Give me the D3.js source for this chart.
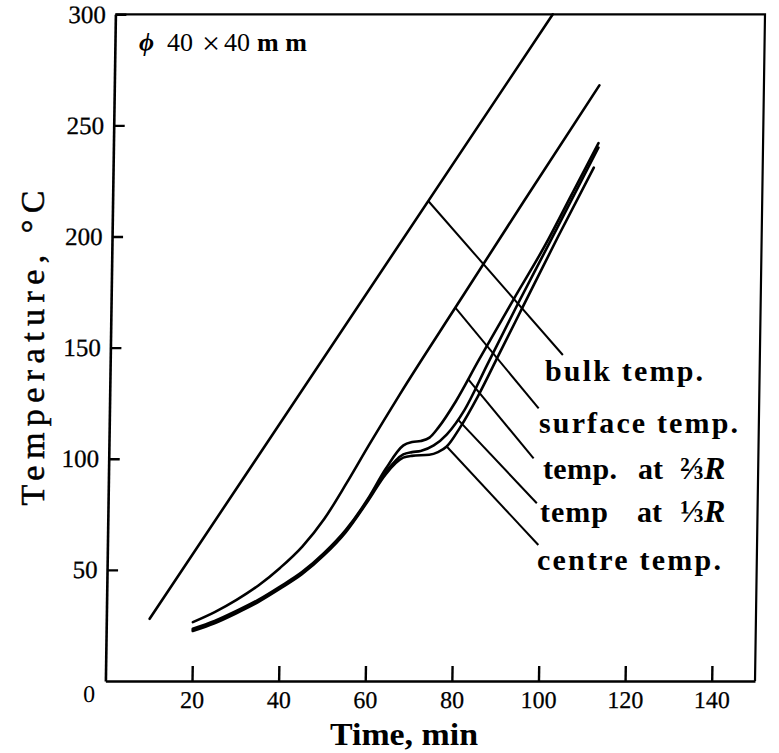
<!DOCTYPE html>
<html>
<head>
<meta charset="utf-8">
<title>Temperature vs time</title>
<script src="https://d3js.org/d3.v7.min.js"></script>
<style>
  body { margin: 0; background: #fff; }
  text { font-family: 'Liberation Serif', 'DejaVu Serif', serif; fill: #000; }
  .axis path, .axis line { stroke: #000; }
</style>
</head>
<body>
<svg id="chart" width="779" height="753"></svg>
<script>
// tick values
const xTicks = [20, 40, 60, 80, 100, 120, 140];
const yTicks = [50, 100, 150, 200, 250, 300];

// bulk temperature (straight heating line)
const bulkTime = [10, 101];
const bulkTemp = [28, 300];

// surface temperature
const surfTime = [20, 25, 30, 35, 40, 45, 50, 55, 60, 67, 80, 95, 112];
const surfTemp = [26.5, 31, 36.5, 43, 51, 60.5, 73, 89, 106, 129, 169.5, 216, 268];

// temp. at 2/3 R
const r23Time = [20, 25, 30, 35, 40, 45, 50, 55, 60, 64, 68, 70, 72, 74, 76, 80, 85, 93, 100, 106, 112];
const r23Temp = [23.5, 27, 31.5, 36.5, 42.5, 49, 57.5, 68, 82, 95.5, 106, 107.5, 108, 109.5, 114, 126, 144, 172, 196, 219, 242];

// temp at 1/3 R
const r13Time = [20, 25, 30, 35, 40, 45, 50, 55, 60, 64, 68, 70, 72, 75, 78, 82, 87, 94, 101, 112];
const r13Temp = [23, 26.5, 31, 36, 42, 48.5, 57, 67.5, 81.5, 94, 102, 103, 103.5, 106, 111, 122, 142, 170, 197, 240];

// centre temp
const centTime = [20, 25, 30, 35, 40, 45, 50, 55, 60, 64, 68, 70, 74, 76, 78, 81, 85, 90, 95, 103, 111];
const centTemp = [22.5, 26, 30.5, 35.5, 41.5, 48, 56.5, 67, 81, 93, 100.5, 101.3, 101.8, 103, 105.5, 114, 128, 148, 168, 200, 231];

// leader lines: [startTime, startTemp, endTime, endTemp]
const leaderBulk = [72.9, 216, 104.5, 146.7];
const leaderSurf = [79.5, 168, 99.1, 122.7];
const leaderR23 = [82.7, 135.8, 98.1, 100.2];
const leaderR13 = [80.5, 117.6, 99, 80];
const leaderCent = [78, 105.5, 99.5, 61.2];

const svg = d3.select("#chart");

const x = d3.scaleLinear().domain([0, 150]).range([105.4, 755]);
const y = d3.scaleLinear().domain([0, 300]).range([681, 14.3]);

// the scanned figure leans slightly to the right at the top
const k = 0.015;
const plot = svg.append("g")
  .attr("transform", `translate(${k * 681},0) skewX(${-Math.atan(k) * 180 / Math.PI})`);

const serif = "'Liberation Serif', 'DejaVu Serif', serif";

// x axis
const xAxis = plot.append("g")
  .attr("class", "axis")
  .attr("transform", `translate(0,${y(0)})`)
  .call(d3.axisBottom(x).tickValues(xTicks).tickSizeInner(-15).tickSizeOuter(0).tickPadding(10));
xAxis.attr("font-family", serif).attr("font-size", 24);
xAxis.select(".domain").attr("stroke-width", 2.6);
xAxis.selectAll(".tick line").attr("stroke-width", 2.4);
xAxis.selectAll("text")
  .style("font-family", serif)
  .attr("font-size", 24)
  .attr("stroke", "#000").attr("stroke-width", 0.25);

// y axis
const yAxis = plot.append("g")
  .attr("class", "axis")
  .attr("transform", `translate(${x(0)},0)`)
  .call(d3.axisLeft(y).tickValues(yTicks).tickSizeInner(-11).tickSizeOuter(0).tickPadding(9.5));
yAxis.attr("font-family", serif).attr("font-size", 25);
yAxis.select(".domain").attr("stroke-width", 2.6);
yAxis.selectAll(".tick line").attr("stroke-width", 2.4);
yAxis.selectAll("text")
  .style("font-family", serif)
  .attr("font-size", 25)
  .attr("stroke", "#000").attr("stroke-width", 0.3);

// shared origin label
plot.append("text")
  .attr("x", x(0) - 16).attr("y", y(0) + 21)
  .attr("text-anchor", "middle")
  .attr("font-size", 24)
  .text("0");

// frame top + right
plot.append("path")
  .attr("d", `M${x(0)},${y(300)}H${x(150)}V${y(0)}`)
  .attr("fill", "none").attr("stroke", "#000").attr("stroke-width", 2.2);

const line = d3.line()
  .x(d => x(d[0]))
  .y(d => y(d[1]))
  .curve(d3.curveMonotoneX);

function pairs(ts, vs) { return ts.map((t, i) => [t, vs[i]]); }

const series = [
  pairs(bulkTime, bulkTemp),
  pairs(surfTime, surfTemp),
  pairs(centTime, centTemp),
  pairs(r13Time, r13Temp),
  pairs(r23Time, r23Temp)
];

plot.selectAll("path.curve")
  .data(series)
  .enter().append("path")
  .attr("class", "curve")
  .attr("d", line)
  .attr("fill", "none")
  .attr("stroke", "#000")
  .attr("stroke-width", 2.6)
  .attr("stroke-linecap", "round");

// leader lines
const leaders = [leaderBulk, leaderSurf, leaderR23, leaderR13, leaderCent];
plot.selectAll("line.leader")
  .data(leaders)
  .enter().append("line")
  .attr("class", "leader")
  .attr("x1", d => x(d[0])).attr("y1", d => y(d[1]))
  .attr("x2", d => x(d[2])).attr("y2", d => y(d[3]))
  .attr("stroke", "#000")
  .attr("stroke-width", 2);

// curve labels
const lab = svg.append("g")
  .attr("font-weight", "bold")
  .attr("font-size", 30);

lab.append("text").attr("x", 545).attr("y", 381)
  .attr("textLength", 158).attr("lengthAdjust", "spacing")
  .text("bulk temp.");
lab.append("text").attr("x", 539).attr("y", 433)
  .attr("textLength", 199).attr("lengthAdjust", "spacing")
  .text("surface temp.");

const t23 = lab.append("text").attr("y", 479);
t23.append("tspan").attr("x", 543).attr("textLength", 74).attr("lengthAdjust", "spacing").text("temp.");
t23.append("tspan").attr("x", 638).text("at");
t23.append("tspan").attr("x", 680).attr("font-size", 32).text("\u2154");
t23.append("tspan").attr("font-style", "italic").attr("font-size", 32).text("R");

const t13 = lab.append("text").attr("y", 522);
t13.append("tspan").attr("x", 540).attr("textLength", 68).attr("lengthAdjust", "spacing").text("temp");
t13.append("tspan").attr("x", 637).text("at");
t13.append("tspan").attr("x", 680).attr("font-size", 32).text("\u2153");
t13.append("tspan").attr("font-style", "italic").attr("font-size", 32).text("R");

lab.append("text").attr("x", 537).attr("y", 570)
  .attr("textLength", 184).attr("lengthAdjust", "spacing")
  .text("centre temp.");

// specimen size note
const note = svg.append("text").attr("y", 51).attr("font-size", 26);
note.append("tspan").attr("x", 139).attr("font-weight", "bold").attr("font-style", "italic").text("\u03D5");
note.append("tspan").attr("x", 167).text("40");
note.append("tspan").attr("x", 202).attr("y", 54).attr("font-size", 32).text("\u00D7");
note.append("tspan").attr("x", 224).attr("y", 51).text("40");
note.append("tspan").attr("x", 257).attr("font-weight", "bold").attr("textLength", 50).attr("lengthAdjust", "spacing").text("m m");

// axis titles
svg.append("text")
  .attr("x", 404).attr("y", 745)
  .attr("text-anchor", "middle")
  .attr("font-size", 32).attr("font-weight", "bold")
  .attr("textLength", 148).attr("lengthAdjust", "spacingAndGlyphs")
  .text("Time, min");

svg.append("text")
  .attr("transform", "translate(44,348) rotate(-90)")
  .attr("text-anchor", "middle")
  .attr("font-size", 34)
  .attr("stroke", "#000").attr("stroke-width", 0.5)
  .attr("textLength", 315).attr("lengthAdjust", "spacing")
  .text("Temperature, \u00B0C");
</script>
</body>
</html>
